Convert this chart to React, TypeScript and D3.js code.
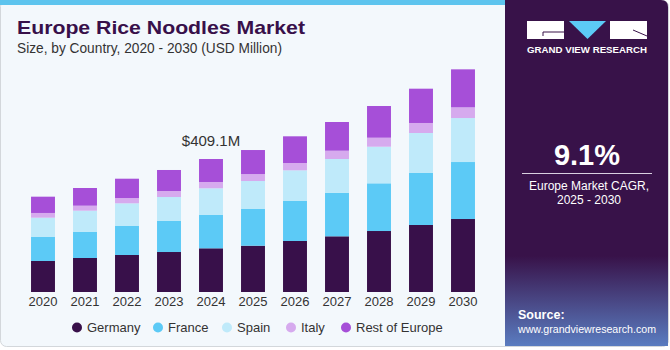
import * as d3 from 'd3';

const years = ['2020', '2021', '2022', '2023', '2024', '2025', '2026', '2027', '2028', '2029', '2030'];
const germany = [95.4, 104.6, 113.8, 123.0, 134.4, 142.4, 156.9, 171.3, 187.6, 206.1, 224.5];
const france = [74.8, 80.9, 89.2, 95.4, 103.4, 112.9, 123.0, 134.1, 146.7, 160.0, 175.3];
const spain = [58.4, 64.6, 69.8, 73.8, 81.2, 86.1, 94.4, 103.7, 112.6, 123.0, 135.3];
const italy = [14.5, 15.4, 16.3, 18.5, 19.4, 21.5, 22.5, 25.5, 27.7, 30.8, 32.9];
const restOfEurope = [50.1, 54.4, 59.4, 64.6, 70.7, 73.8, 82.1, 88.3, 97.5, 105.5, 116.9];

const seriesNames = ['Germany', 'France', 'Spain', 'Italy', 'Rest of Europe'];
const seriesColors = ['#38104a', '#5ccaf6', '#bfeafa', '#d6aaee', '#a64fd8'];
const annotation = { year: '2024', label: '$409.1M' };
const cagr = '9.1%';

const W = 670;
const H = 350;
const font = '"Liberation Sans", Arial, sans-serif';

export default function App() {
  const rows = years.map((y, i) => ({
    year: y,
    Germany: germany[i],
    France: france[i],
    Spain: spain[i],
    Italy: italy[i],
    'Rest of Europe': restOfEurope[i],
  }));
  const stacked = d3.stack<any>().keys(seriesNames)(rows);

  const x = d3.scaleBand().domain(years).range([22, 484]).paddingInner(0.43).paddingOuter(0.215);
  const y = d3.scaleLinear().domain([0, 700]).range([292, 292 - 700 / 3.076]);

  const totals = rows.map((r) => d3.sum(seriesNames, (k) => (r as any)[k]));
  const annIdx = years.indexOf(annotation.year);

  // legend positions
  const legendX = [77, 158, 227, 291, 346];

  return (
    <svg width={W} height={H} style={{ position: 'absolute', left: 0, top: 0 }} fontFamily={font}>
      <defs>
        <linearGradient id="panel-grad" x1="0" y1="0" x2="0" y2="1">
          <stop offset="0%" stopColor="#381249" />
          <stop offset="74%" stopColor="#381249" />
          <stop offset="100%" stopColor="#5a7cc0" />
        </linearGradient>
      </defs>
      <rect x={0.5} y={0.5} width={668} height={346} rx={6} fill="#f3f8fc" stroke="#d3d7db" />
      <rect x={0} y={0} width={506} height={5} fill="#5dc4ee" />

      <text x={17} y={34} fontSize={19} fontWeight={900} fill="#38104a" textLength={288} lengthAdjust="spacingAndGlyphs">
        Europe Rice Noodles Market
      </text>
      <text x={17} y={53} fontSize={14} fill="#333" textLength={265} lengthAdjust="spacingAndGlyphs">
        Size, by Country, 2020 - 2030 (USD Million)
      </text>

      {stacked.map((s, si) => (
        <g key={s.key} fill={seriesColors[si]}>
          {s.map((d, i) => (
            <rect
              key={years[i]}
              x={x(years[i])}
              y={y(d[1])}
              width={x.bandwidth()}
              height={y(d[0]) - y(d[1])}
            />
          ))}
        </g>
      ))}

      {years.map((yr) => (
        <text
          key={yr}
          x={(x(yr) as number) + x.bandwidth() / 2}
          y={306}
          fontSize={13}
          textAnchor="middle"
          fill="#333"
        >
          {yr}
        </text>
      ))}

      <text
        x={(x(annotation.year) as number) + x.bandwidth() / 2}
        y={y(totals[annIdx]) - 13}
        fontSize={15}
        textAnchor="middle"
        fill="#333"
      >
        {annotation.label}
      </text>

      {seriesNames.map((n, i) => (
        <g key={n}>
          <circle cx={legendX[i]} cy={327.5} r={5} fill={seriesColors[i]} />
          <text x={legendX[i] + 10} y={332} fontSize={13} fill="#333">
            {n}
          </text>
        </g>
      ))}

      {/* right panel */}
      <path d="M505,0 H661 Q668,0 668,7 V346 H505 Z" fill="url(#panel-grad)" />
      <g>
        <rect x={527} y={21} width={37} height={18} fill="#fff" />
        <path d="M543,36 V32 H564" stroke="#381249" strokeWidth={1} fill="none" />
        <path d="M569,21 H606 L587.5,39 Z" fill="#5ccaf6" />
        <rect x={610} y={21} width={37} height={18} fill="#fff" />
        <path d="M633,30 L647,36" stroke="#381249" strokeWidth={1} fill="none" />
        <text x={587} y={53} fontSize={9.5} fontWeight={700} fill="#fff" textAnchor="middle" textLength={120} lengthAdjust="spacingAndGlyphs">
          GRAND VIEW RESEARCH
        </text>
      </g>
      <text x={587} y={165} fontSize={29} fontWeight={700} fill="#fff" textAnchor="middle">
        {cagr}
      </text>
      <line x1={522} x2={652} y1={173.5} y2={173.5} stroke="#d8d0e0" strokeWidth={1} />
      <text x={589} y={190} fontSize={12} fill="#fff" textAnchor="middle">
        Europe Market CAGR,
      </text>
      <text x={589} y={204} fontSize={12} fill="#fff" textAnchor="middle">
        2025 - 2030
      </text>
      <text x={518} y={319} fontSize={12.5} fontWeight={700} fill="#fff">
        Source:
      </text>
      <text x={518} y={333} fontSize={11.5} fill="#fff" textLength={138} lengthAdjust="spacingAndGlyphs">
        www.grandviewresearch.com
      </text>
    </svg>
  );
}
